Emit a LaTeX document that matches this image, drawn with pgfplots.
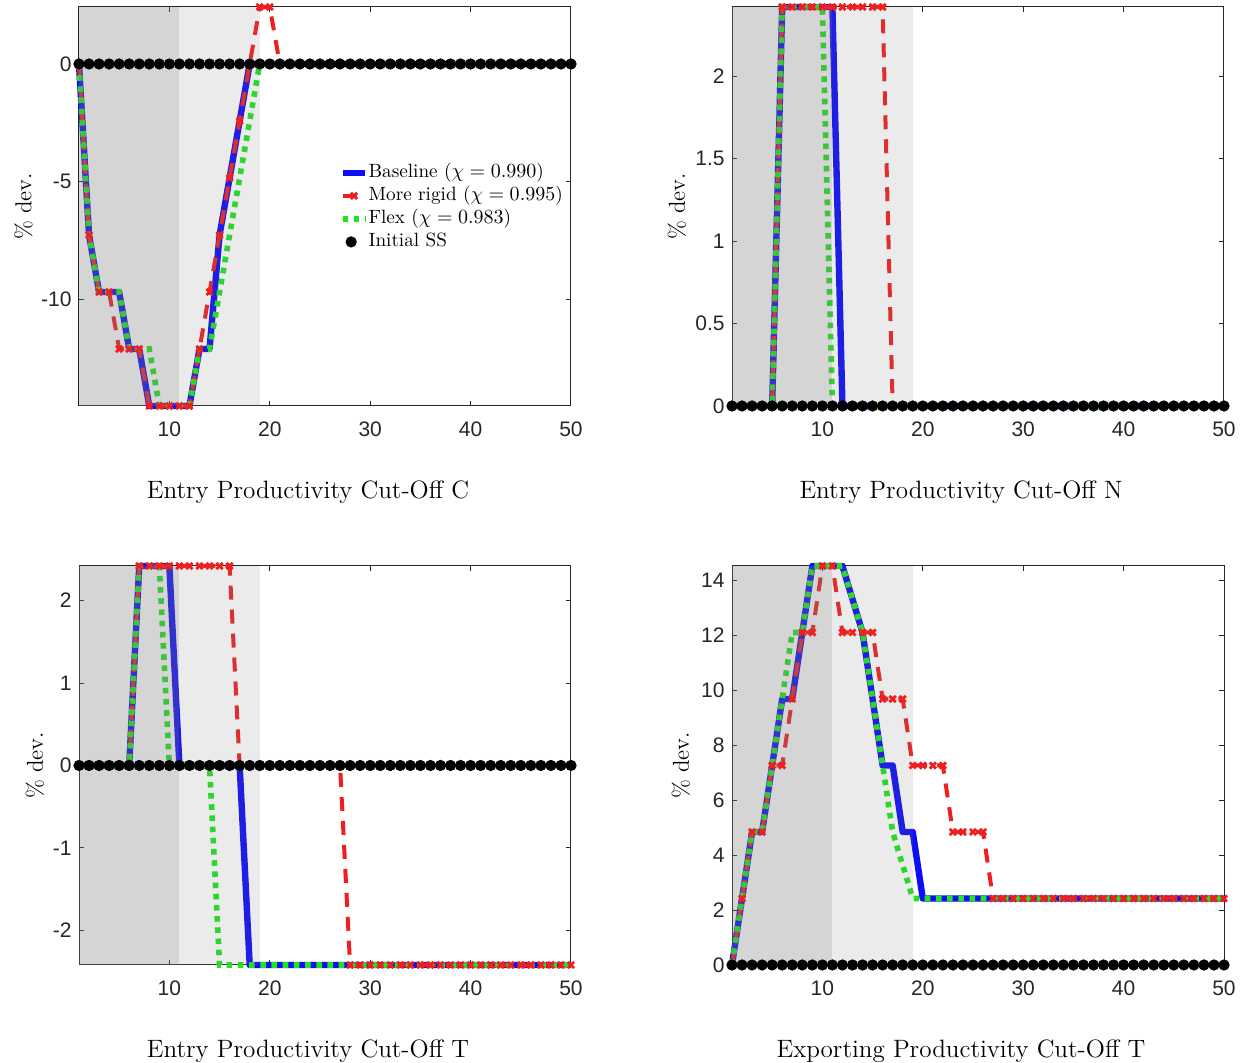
\documentclass[border=0pt]{standalone}
\usepackage{fontspec}
\usepackage{pgfplots}
\usepackage{pgfplotstable}
\pgfplotsset{compat=1.18}
\newfontfamily\arialfont{Liberation Sans}
\definecolor{axcol}{gray}{0.15}
\definecolor{mblue}{rgb}{0.05,0.05,0.97}
\definecolor{mred}{rgb}{0.94,0.12,0.12}
\definecolor{mgreen}{rgb}{0.12,0.9,0.12}

% x base rigid flex ss
\pgfplotstableread{
x b r g s
1 0 0 0 0
2 -7.26 -7.26 -7.26 0
3 -9.68 -9.68 -9.68 0
4 -9.68 -9.68 -9.68 0
5 -9.68 -12.1 -9.68 0
6 -12.1 -12.1 -12.1 0
7 -12.1 -12.1 -12.1 0
8 -14.52 -14.52 -12.1 0
9 -14.52 -14.52 -14.52 0
10 -14.52 -14.52 -14.52 0
11 -14.52 -14.52 -14.52 0
12 -14.52 -14.52 -14.52 0
13 -12.1 -12.1 -12.1 0
14 -12.1 -9.68 -12.1 0
15 -7.26 -7.26 -9.68 0
16 -4.84 -4.84 -7.26 0
17 -2.42 -2.42 -4.84 0
18 0 0 -2.42 0
19 0 2.42 0 0
20 0 2.42 0 0
21 0 0 0 0
22 0 0 0 0
23 0 0 0 0
24 0 0 0 0
25 0 0 0 0
26 0 0 0 0
27 0 0 0 0
28 0 0 0 0
29 0 0 0 0
30 0 0 0 0
31 0 0 0 0
32 0 0 0 0
33 0 0 0 0
34 0 0 0 0
35 0 0 0 0
36 0 0 0 0
37 0 0 0 0
38 0 0 0 0
39 0 0 0 0
40 0 0 0 0
41 0 0 0 0
42 0 0 0 0
43 0 0 0 0
44 0 0 0 0
45 0 0 0 0
46 0 0 0 0
47 0 0 0 0
48 0 0 0 0
49 0 0 0 0
50 0 0 0 0
}\dataC

\pgfplotstableread{
x b r g s
1 0 0 0 0
2 0 0 0 0
3 0 0 0 0
4 0 0 0 0
5 0 0 0 0
6 2.42 2.42 2.42 0
7 2.42 2.42 2.42 0
8 2.42 2.42 2.42 0
9 2.42 2.42 2.42 0
10 2.42 2.42 2.42 0
11 2.42 2.42 0 0
12 0 2.42 0 0
13 0 2.42 0 0
14 0 2.42 0 0
15 0 2.42 0 0
16 0 2.42 0 0
17 0 0 0 0
18 0 0 0 0
19 0 0 0 0
20 0 0 0 0
21 0 0 0 0
22 0 0 0 0
23 0 0 0 0
24 0 0 0 0
25 0 0 0 0
26 0 0 0 0
27 0 0 0 0
28 0 0 0 0
29 0 0 0 0
30 0 0 0 0
31 0 0 0 0
32 0 0 0 0
33 0 0 0 0
34 0 0 0 0
35 0 0 0 0
36 0 0 0 0
37 0 0 0 0
38 0 0 0 0
39 0 0 0 0
40 0 0 0 0
41 0 0 0 0
42 0 0 0 0
43 0 0 0 0
44 0 0 0 0
45 0 0 0 0
46 0 0 0 0
47 0 0 0 0
48 0 0 0 0
49 0 0 0 0
50 0 0 0 0
}\dataN

\pgfplotstableread{
x b r g s
1 0 0 0 0
2 0 0 0 0
3 0 0 0 0
4 0 0 0 0
5 0 0 0 0
6 0 0 0 0
7 2.42 2.42 2.42 0
8 2.42 2.42 2.42 0
9 2.42 2.42 2.42 0
10 2.42 2.42 0 0
11 0 2.42 0 0
12 0 2.42 0 0
13 0 2.42 0 0
14 0 2.42 0 0
15 0 2.42 -2.42 0
16 0 2.42 -2.42 0
17 0 0 -2.42 0
18 -2.42 0 -2.42 0
19 -2.42 0 -2.42 0
20 -2.42 0 -2.42 0
21 -2.42 0 -2.42 0
22 -2.42 0 -2.42 0
23 -2.42 0 -2.42 0
24 -2.42 0 -2.42 0
25 -2.42 0 -2.42 0
26 -2.42 0 -2.42 0
27 -2.42 0 -2.42 0
28 -2.42 -2.42 -2.42 0
29 -2.42 -2.42 -2.42 0
30 -2.42 -2.42 -2.42 0
31 -2.42 -2.42 -2.42 0
32 -2.42 -2.42 -2.42 0
33 -2.42 -2.42 -2.42 0
34 -2.42 -2.42 -2.42 0
35 -2.42 -2.42 -2.42 0
36 -2.42 -2.42 -2.42 0
37 -2.42 -2.42 -2.42 0
38 -2.42 -2.42 -2.42 0
39 -2.42 -2.42 -2.42 0
40 -2.42 -2.42 -2.42 0
41 -2.42 -2.42 -2.42 0
42 -2.42 -2.42 -2.42 0
43 -2.42 -2.42 -2.42 0
44 -2.42 -2.42 -2.42 0
45 -2.42 -2.42 -2.42 0
46 -2.42 -2.42 -2.42 0
47 -2.42 -2.42 -2.42 0
48 -2.42 -2.42 -2.42 0
49 -2.42 -2.42 -2.42 0
50 -2.42 -2.42 -2.42 0
}\dataT

\pgfplotstableread{
x b r g s
1 0 0 0 0
2 2.42 2.42 2.42 0
3 4.84 4.84 4.84 0
4 4.84 4.84 4.84 0
5 7.26 7.26 7.26 0
6 9.68 7.26 9.68 0
7 9.68 9.68 12.1 0
8 12.1 12.1 12.1 0
9 14.52 12.1 14.52 0
10 14.52 14.52 14.52 0
11 14.52 14.52 14.52 0
12 14.52 12.1 14.52 0
13 13.31 12.1 13.31 0
14 12.1 12.1 12.1 0
15 9.68 12.1 9.68 0
16 7.26 9.68 7.26 0
17 7.26 9.68 4.84 0
18 4.84 9.68 3.63 0
19 4.84 7.26 2.42 0
20 2.42 7.26 2.42 0
21 2.42 7.26 2.42 0
22 2.42 7.26 2.42 0
23 2.42 4.84 2.42 0
24 2.42 4.84 2.42 0
25 2.42 4.84 2.42 0
26 2.42 4.84 2.42 0
27 2.42 2.42 2.42 0
28 2.42 2.42 2.42 0
29 2.42 2.42 2.42 0
30 2.42 2.42 2.42 0
31 2.42 2.42 2.42 0
32 2.42 2.42 2.42 0
33 2.42 2.42 2.42 0
34 2.42 2.42 2.42 0
35 2.42 2.42 2.42 0
36 2.42 2.42 2.42 0
37 2.42 2.42 2.42 0
38 2.42 2.42 2.42 0
39 2.42 2.42 2.42 0
40 2.42 2.42 2.42 0
41 2.42 2.42 2.42 0
42 2.42 2.42 2.42 0
43 2.42 2.42 2.42 0
44 2.42 2.42 2.42 0
45 2.42 2.42 2.42 0
46 2.42 2.42 2.42 0
47 2.42 2.42 2.42 0
48 2.42 2.42 2.42 0
49 2.42 2.42 2.42 0
50 2.42 2.42 2.42 0
}\dataX

\pgfplotsset{
  myaxis/.style={
    width=246pt, height=199.5pt, scale only axis,
    xmin=1, xmax=50, xtick={10,20,30,40,50},
    clip=false,
    axis line style={axcol, line width=0.5pt},
    every tick/.style={axcol, line width=0.5pt},
    tick align=inside, major tick length=2.5pt,
    ticklabel style={font=\arialfont\fontsize{10.5}{12}\selectfont, text=axcol},
    /pgf/number format/assume math mode=true,
    xticklabel style={anchor=north, inner sep=0pt, yshift=-7.75pt},
    yticklabel style={anchor=east, inner sep=0pt, xshift=-3.5pt},
    label style={font=\fontsize{12.55}{14}\selectfont},
    x label style={at={(axis description cs:0.4654,-0.216)}, anchor=center},
    ylabel={\fontsize{11.5}{13}\selectfont\% dev.},
    legend image code/.code={\draw[mark repeat=2,mark phase=2] plot coordinates {(0cm,0cm) (0.2cm,0cm) (0.4cm,0cm)};},
  },
  pbase/.style={draw=mblue, line width=3.2pt, no markers, line join=round},
  prigid/.style={draw=mred, line width=2pt, dash pattern=on 7pt off 5pt, mark=x, mark size=2.2pt, mark options={solid, line width=1.4pt, draw=mred}},
  pflex/.style={draw=mgreen, line width=2.8pt, dash pattern=on 2.8pt off 2.8pt, no markers},
  pss/.style={only marks, mark=*, mark size=2.6pt, black},
}

\newcommand{\myshade}[2]{%
  \fill[gray, fill opacity=0.33] (axis cs:1,#1) rectangle (axis cs:11,#2);
  \fill[gray, fill opacity=0.157] (axis cs:11,#1) rectangle (axis cs:19,#2);
}

\begin{document}
\begin{tikzpicture}
\useasboundingbox (0,0) rectangle (624pt,531.5pt);

\begin{axis}[myaxis, at={(39.5pt,328.5pt)}, anchor=south west,
  ymin=-14.52, ymax=2.42, ytick={-10,-5,0},
  xlabel={Entry Productivity Cut-Off C},
  y label style={at={(axis description cs:-0.1128,0.5)}, anchor=center},
  legend style={at={(axis description cs:0.5285,0.609)}, anchor=north west, draw=none, fill=none,
    inner sep=0pt, font=\fontsize{9.6}{11}\selectfont, row sep=2pt, column sep=0pt,
    nodes={inner sep=0pt, text height=7pt, text depth=2.5pt}},
  legend cell align=left]
\addplot[pbase] table[x=x,y=b] {\dataC};
\addlegendentry{Baseline ($\chi = 0.990$)}
\addplot[prigid] table[x=x,y=r] {\dataC};
\addlegendentry{More rigid ($\chi = 0.995$)}
\addplot[pflex] table[x=x,y=g] {\dataC};
\addlegendentry{Flex ($\chi = 0.983$)}
\addplot[pss, legend image code/.code={\draw[mark repeat=2,mark phase=2] plot coordinates {(-0.1cm,0cm) (0.15cm,0cm) (0.4cm,0cm)};}] table[x=x,y=s] {\dataC};
\addlegendentry{Initial SS}
\myshade{-14.52}{2.42}
\end{axis}

\begin{axis}[myaxis, at={(366pt,328.5pt)}, anchor=south west,
  ymin=0, ymax=2.42, ytick={0,0.5,1,1.5,2},
  xlabel={Entry Productivity Cut-Off N},
  y label style={at={(axis description cs:-0.1118,0.5)}, anchor=center}]
\addplot[pbase] table[x=x,y=b] {\dataN};
\addplot[prigid] table[x=x,y=r] {\dataN};
\addplot[pflex] table[x=x,y=g] {\dataN};
\addplot[pss] table[x=x,y=s] {\dataN};
\myshade{0}{2.42}
\end{axis}

\begin{axis}[myaxis, at={(39.5pt,49pt)}, anchor=south west,
  ymin=-2.42, ymax=2.42, ytick={-2,-1,0,1,2},
  xlabel={Entry Productivity Cut-Off T},
  y label style={at={(axis description cs:-0.0894,0.5)}, anchor=center}]
\addplot[pbase] table[x=x,y=b] {\dataT};
\addplot[prigid] table[x=x,y=r] {\dataT};
\addplot[pflex] table[x=x,y=g] {\dataT};
\addplot[pss] table[x=x,y=s] {\dataT};
\myshade{-2.42}{2.42}
\end{axis}

\begin{axis}[myaxis, at={(366pt,49pt)}, anchor=south west,
  ymin=0, ymax=14.52, ytick={0,2,...,14},
  xlabel={Exporting Productivity Cut-Off T},
  y label style={at={(axis description cs:-0.1037,0.5)}, anchor=center}]
\addplot[pbase] table[x=x,y=b] {\dataX};
\addplot[prigid] table[x=x,y=r] {\dataX};
\addplot[pflex] table[x=x,y=g] {\dataX};
\addplot[pss] table[x=x,y=s] {\dataX};
\myshade{0}{14.52}
\end{axis}
\end{tikzpicture}
\end{document}
